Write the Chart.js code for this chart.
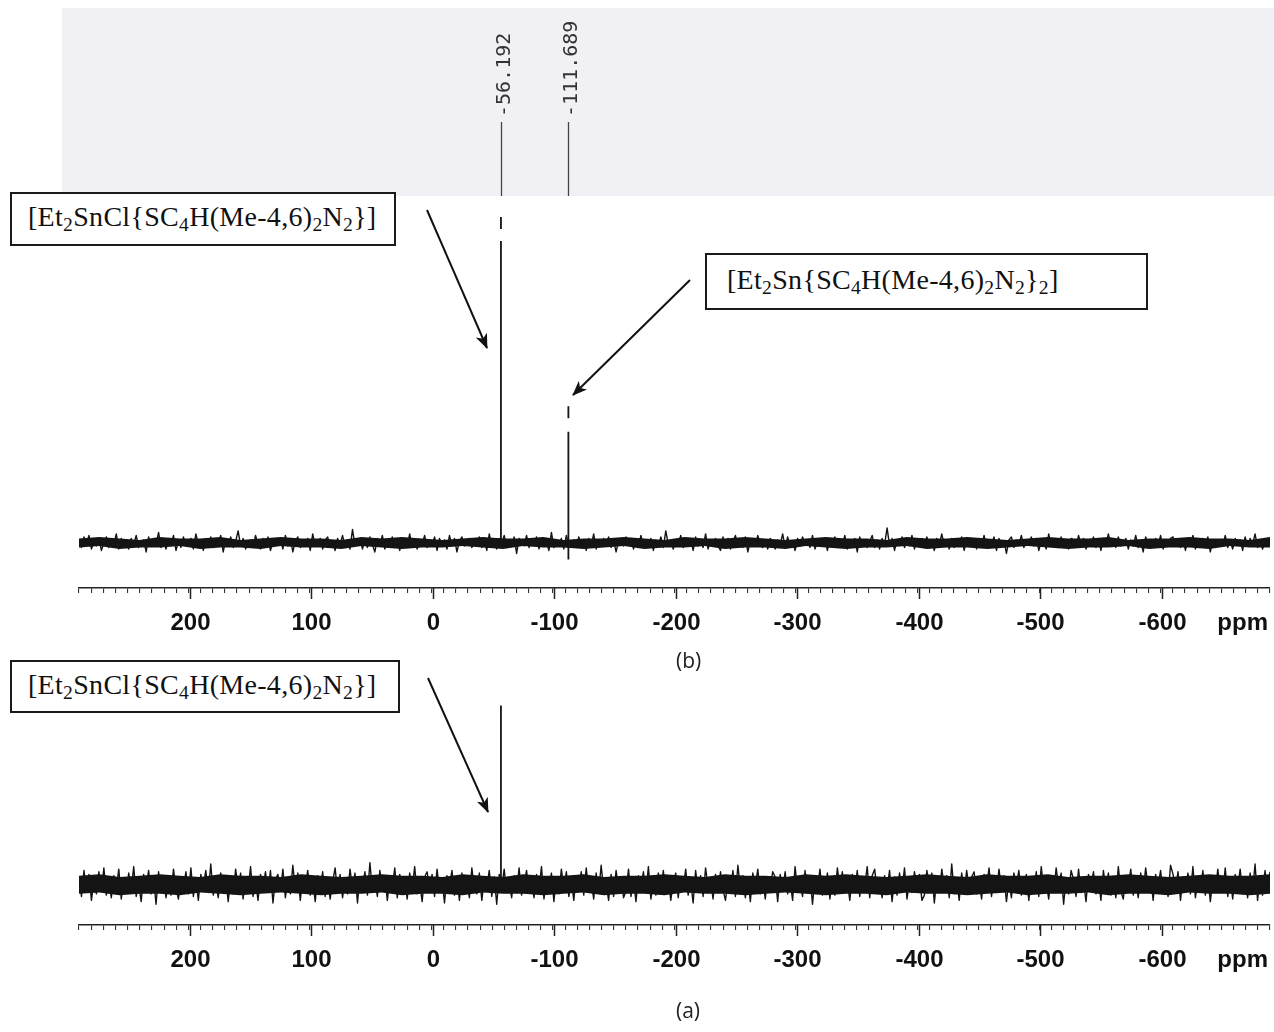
<!DOCTYPE html>
<html>
<head>
<meta charset="utf-8">
<title>119Sn NMR</title>
<script src="https://cdn.jsdelivr.net/npm/chart.js@4.4.1/dist/chart.umd.min.js"></script>
<style>
  body { margin: 0; width: 1274px; height: 1032px; background: #fff; position: relative; overflow: hidden; }
  canvas { position: absolute; left: 0; }
  #chartB { top: 0; }
  #chartA { top: 650px; }
  .box {
    position: absolute; box-sizing: border-box; border: 2px solid #1a1a1a; background: #fff;
    font-family: "Liberation Serif", "Times New Roman", serif; font-size: 28px; color: #111;
    white-space: nowrap; letter-spacing: 0.3px;
  }
  .box sub { font-size: 0.7em; position: relative; top: 0.28em; vertical-align: baseline; line-height: 0; }
  .caption { position: absolute; font-family: "Open Sans", "Noto Sans", sans-serif; font-size: 21px; color: #222; }
  svg { position: absolute; left: 0; top: 0; }
</style>
</head>
<body>
<canvas id="chartB" width="1274" height="650"></canvas>
<canvas id="chartA" width="1274" height="337"></canvas>

<div class="box" style="left:10px;top:192px;width:386px;height:54px;padding:7px 0 0 16px;">[Et<sub>2</sub>SnCl{SC<sub>4</sub>H(Me-4,6)<sub>2</sub>N<sub>2</sub>}]</div>
<div class="box" style="left:705px;top:253px;width:443px;height:57px;padding:9px 0 0 20px;">[Et<sub>2</sub>Sn{SC<sub>4</sub>H(Me-4,6)<sub>2</sub>N<sub>2</sub>}<sub>2</sub>]</div>
<div class="box" style="left:10px;top:660px;width:390px;height:53px;padding:7px 0 0 16px;">[Et<sub>2</sub>SnCl{SC<sub>4</sub>H(Me-4,6)<sub>2</sub>N<sub>2</sub>}]</div>

<div class="caption" style="left:676px;top:646px;">(b)</div>
<div class="caption" style="left:676px;top:996px;">(a)</div>

<svg width="1274" height="1032">
  <defs>
    <marker id="head" markerWidth="16" markerHeight="12" refX="14" refY="6" orient="auto" markerUnits="userSpaceOnUse">
      <path d="M0,0 L15,6 L0,12 L4,6 z" fill="#111"/>
    </marker>
  </defs>
  <line x1="427" y1="210" x2="487" y2="348" stroke="#111" stroke-width="2" marker-end="url(#head)"/>
  <line x1="690" y1="280" x2="573" y2="395" stroke="#111" stroke-width="2" marker-end="url(#head)"/>
  <line x1="428" y1="678" x2="488" y2="812" stroke="#111" stroke-width="2" marker-end="url(#head)"/>
</svg>

<script>
// spectral window (ppm), high to low
const ppmStart = 291;
const ppmEnd = -689;
const majorTicks = [200, 100, 0, -100, -200, -300, -400, -500, -600];

// spectrum (b): mixture
const peakPpmB = [-56.192, -111.689];
const peakHeightB = [217, 91];
const peakFootB = [0, -11];
// break in each plotted peak line (low, high)
const peakBreakLowB = [201, 74];
const peakBreakHighB = [209, 83];
// dense core of the baseline
const coreUpperB = [
  3,4,3,2,4,3,3,4,2,3,4,3,3,2,4,3,4,3,2,3,
  4,3,3,4,2,3,3,4,3,2,4,3,3,4,3,2,3,4,3,3,
  2,4,3,3,4,3,2,3,4,3,3,4,2,3,3,4,3,3,2,4
];
const coreLowerB = [
  -3,-2,-4,-3,-3,-2,-4,-3,-3,-4,-2,-3,-3,-4,-2,-3,-4,-3,-3,-2,
  -3,-4,-2,-3,-3,-4,-3,-2,-4,-3,-3,-2,-4,-3,-3,-4,-2,-3,-4,-3,
  -3,-2,-4,-3,-3,-4,-3,-2,-3,-4,-3,-3,-2,-4,-3,-3,-4,-2,-3,-3
];
// sampled baseline noise
const noiseB = [
  2,-3,4,-1,5,-4,1,-2,3,-5,0,4,-3,2,-1,6,-4,3,-2,1,
  -4,3,-1,5,-3,0,2,-6,4,-2,3,-1,7,-3,1,-4,2,-2,5,-5,
  1,-3,4,-2,0,3,-4,6,-1,2,-5,3,-2,4,-3,1,-1,5,-6,2,
  -2,4,-3,1,8,-2,3,-4,0,2,-3,5,-1,-4,3,-2,4,-5,1,3,
  -1,2,-4,5,-2,3,-6,1,4,-3,2,-1,3,-5,6,-2,0,3,-4,2,
  4,-2,1,-5,3,-1,5,-3,2,-4,9,-2,1,3,-4,2,-3,4,-1,-6,
  3,-2,5,-4,1,-1,4,-3,2,-5,3,0,-2,6,-3,1,-4,2,-1,5,
  -3,1,-2,4,-5,3,-1,2,-4,5,-2,3,-6,1,4,-2,0,3,-3,2,
  -1,4,-3,2,-5,6,-2,1,-4,3,-1,5,-3,2,-2,4,-7,3,1,-2,
  5,-3,2,-1,4,-4,3,-2,1,-5,7,-3,2,-1,3,-4,5,-2,0,2,
  -3,4,-1,2,-5,3,-2,6,-4,1,-2,3,-1,4,-3,2,-6,1,3,-2,
  4,-1,3,-4,2,-3,5,-2,1,-1,3,-5,2,-2,4,-3,8,-1,2,-4,
  1,-2,5,-3,3,-1,2,-5,4,-2,1,-3,6,-4,2,-1,3,-2,-5,4,
  -2,3,-4,1,5,-2,2,-3,4,-6,1,3,-2,5,-1,-3,2,-4,3,1,
  -4,2,-1,6,-3,4,-2,1,-5,3,-2,4,-1,2,-3,5,-4,1,3,-2,
  2,-5,3,-1,4,-3,2,-2,5,-4,1,-1,3,-6,4,-2,2,-3,1,5,
  -3,2,-4,3,-1,10,-2,3,-5,2,-1,4,-3,1,-2,5,-4,2,-1,3,
  -2,4,-3,1,-5,3,-1,6,-2,2,-4,3,-3,1,-1,4,-5,2,3,-2,
  1,-4,3,-2,5,-3,2,-1,4,-5,3,-2,1,-7,2,4,-3,2,-1,5,
  -3,2,-1,4,-2,3,-5,1,2,-4,6,-2,3,-1,-3,4,-2,1,-4,3,
  2,-3,5,-1,3,-4,1,-2,4,-3,2,-5,3,-1,6,-2,1,-3,4,-2,
  -1,3,-4,2,-2,5,-3,1,-6,4,-1,2,-3,3,-2,5,-4,1,-1,3,
  4,-2,1,-3,2,-5,3,-1,5,-4,2,-2,3,-1,4,-6,2,-3,1,2,
  -2,5,-3,1,-4,3,-1,2,-5,4,-2,3,-1,6,-3,2,-4,1,3,-1
];

// spectrum (a): monochloride only
const peakPpmA = [-56.192];
const peakHeightA = [138];
const peakFootA = [0];
const peakBreakLowA = [null];
const peakBreakHighA = [null];
const coreUpperA = [
  7,8,6,7,8,7,6,8,7,7,6,8,7,6,7,8,7,7,6,8,
  7,6,8,7,7,8,6,7,7,8,7,6,8,7,7,6,8,7,8,7,
  6,7,8,7,6,8,7,7,8,6,7,7,8,7,6,7,8,7,7,8
];
const coreLowerA = [
  -7,-6,-8,-7,-7,-8,-6,-7,-8,-7,-6,-7,-8,-7,-7,-6,-8,-7,-7,-8,
  -6,-7,-7,-8,-7,-6,-8,-7,-7,-8,-6,-7,-7,-8,-7,-6,-7,-8,-7,-7,
  -8,-6,-7,-7,-8,-7,-6,-8,-7,-7,-6,-8,-7,-7,-8,-6,-7,-7,-8,-7
];
const noiseA = [
  6,-9,11,-4,8,-12,3,-7,10,-5,13,-8,2,-10,7,-3,12,-11,5,-6,
  9,-4,14,-9,1,-13,8,-2,11,-7,4,-15,10,-5,7,-10,3,-8,12,-3,
  -11,6,-2,10,-7,13,-9,4,-12,8,-1,11,-6,16,-8,2,-10,9,-4,7,
  -13,5,-7,12,-3,9,-11,6,-5,14,-9,3,-12,8,-2,10,-6,11,-14,4,
  8,-5,12,-10,3,-7,15,-4,9,-12,6,-1,11,-8,4,-13,7,-3,10,-9,
  5,-11,2,13,-6,8,-10,4,-7,12,-3,9,-14,6,-1,10,-8,17,-5,3,
  -9,11,-4,7,-12,5,-2,13,-10,8,-6,3,-11,9,-4,14,-7,2,-13,6,
  10,-3,8,-9,12,-5,4,-14,7,-1,11,-8,5,-12,9,-6,3,-10,13,-4,
  -7,9,-12,4,-2,11,-9,6,-15,8,-3,12,-6,2,-10,7,-5,13,-8,1,
  11,-6,3,-10,8,-4,14,-11,5,-2,9,-13,6,-7,12,-3,10,-9,4,-12,
  7,-2,10,-8,13,-5,3,-11,9,-6,15,-4,1,-12,8,-9,11,-3,6,-10,
  -5,12,-9,4,-13,7,-1,10,-6,14,-11,3,-8,9,-4,11,-7,5,-12,2,
  9,-10,6,-3,12,-8,2,-14,11,-5,7,-9,13,-2,4,-11,8,-6,10,-4,
  -12,3,-6,11,-9,15,-3,7,-10,5,-13,9,-1,12,-7,4,-11,6,-2,10,
  6,-13,8,-4,10,-7,3,-12,14,-5,2,-9,11,-6,7,-15,5,-3,12,-8,
  -4,9,-11,5,-8,13,-2,10,-6,3,-12,8,-5,11,-9,4,-1,14,-10,7,
  12,-5,2,-10,7,-3,11,-13,6,-8,9,-4,13,-11,3,-6,10,-2,8,-12,
  -8,11,-3,9,-14,5,-6,12,-2,7,-10,16,-7,4,-12,9,-5,11,-3,6,
  10,-7,4,-11,8,-2,13,-9,5,-6,12,-4,7,-13,3,-10,9,-1,11,-8,
  -3,8,-12,6,-5,10,-9,14,-4,2,-11,7,-6,13,-2,9,-15,5,-7,11,
  4,-9,12,-6,3,-13,8,-1,10,-7,5,-12,11,-4,9,-8,2,-10,14,-5,
  -11,7,-2,12,-8,4,-10,9,-5,13,-3,6,-12,8,-1,11,-7,3,-9,15,
  8,-4,10,-12,6,-2,9,-7,14,-10,3,-5,11,-8,7,-13,4,-6,12,-3,
  -6,13,-9,5,-11,8,-3,12,-7,2,-10,9,-4,16,-12,6,-8,11,-5,10
];

const axisFontCss = "bold 24px 'Liberation Sans', Arial, sans-serif";

// place a sampled series on the acquisition grid
function onGrid(values) {
  const step = (ppmStart - ppmEnd) / (values.length - 1);
  return values.map((v, i) => ({ x: ppmStart - i * step, y: v }));
}

function peakLine(p, foot, top, breakLow, breakHigh) {
  if (breakLow === null) return [{ x: p, y: foot }, { x: p, y: top }];
  return [
    { x: p, y: foot }, { x: p, y: breakLow }, { x: p, y: null },
    { x: p, y: breakHigh }, { x: p, y: top },
  ];
}

function spectrumDatasets(s) {
  const sets = [
    { data: onGrid(s.coreLower), borderWidth: 0, fill: false },
    { data: onGrid(s.coreUpper), borderWidth: 0, backgroundColor: "#141414", fill: "-1" },
    { data: onGrid(s.noise), borderWidth: 1.4, fill: false },
  ];
  s.ppms.forEach((p, k) => {
    sets.push({
      data: peakLine(p, s.feet[k], s.heights[k], s.breakLow[k], s.breakHigh[k]),
      borderWidth: 1.8,
      fill: false,
    });
  });
  return sets.map((d) => Object.assign({
    borderColor: "#141414", pointRadius: 0, tension: 0, spanGaps: false, borderJoinStyle: "round",
  }, d));
}

// long ticks, their numbers and the unit label under the axis line
const axisLabelPlugin = {
  id: "axisLabels",
  afterDraw(chart) {
    const ctx = chart.ctx;
    const xs = chart.scales.x;
    const bottom = chart.chartArea.bottom;
    ctx.save();
    ctx.strokeStyle = "#222";
    ctx.lineWidth = 1.5;
    ctx.fillStyle = "#111";
    ctx.font = axisFontCss;
    ctx.textAlign = "center";
    ctx.textBaseline = "middle";
    majorTicks.forEach((v) => {
      const px = Math.round(xs.getPixelForValue(v)) + 0.5;
      ctx.beginPath();
      ctx.moveTo(px, bottom);
      ctx.lineTo(px, bottom + 11);
      ctx.stroke();
      ctx.fillText(String(v), px, bottom + 35);
    });
    ctx.textAlign = "right";
    ctx.fillText("ppm", chart.chartArea.right - 2, bottom + 35);
    ctx.restore();
  },
};

// scanned header strip with the peak-pick labels above spectrum (b)
const peakLabelPlugin = {
  id: "peakLabels",
  beforeDraw(chart) {
    const ctx = chart.ctx;
    const xs = chart.scales.x;
    ctx.save();
    ctx.fillStyle = "#f1f0f4";
    ctx.fillRect(62, 8, 1212, 188);
    ctx.strokeStyle = "#444";
    ctx.fillStyle = "#333";
    ctx.lineWidth = 1.3;
    ctx.font = "20px 'DejaVu Sans Mono', monospace";
    peakPpmB.forEach((p) => {
      const px = Math.round(xs.getPixelForValue(p)) + 0.5;
      ctx.beginPath();
      ctx.moveTo(px, 122);
      ctx.lineTo(px, 196);
      ctx.stroke();
      ctx.save();
      ctx.translate(px + 3, 117);
      ctx.rotate(-Math.PI / 2);
      ctx.textAlign = "left";
      ctx.textBaseline = "middle";
      ctx.fillText(p.toFixed(3), 0, 0);
      ctx.restore();
    });
    ctx.restore();
  },
};

function spectrumOptions(yMin, yMax, topPad) {
  return {
    responsive: false,
    animation: false,
    devicePixelRatio: 1,
    layout: { padding: { left: 79, right: 4, top: topPad, bottom: 0 } },
    plugins: { legend: { display: false }, tooltip: { enabled: false } },
    scales: {
      x: {
        type: "linear",
        reverse: true,
        min: ppmEnd,
        max: ppmStart,
        afterFit: (scale) => {
          scale.height = 62;
          scale.paddingLeft = 0;
          scale.paddingRight = 0;
        },
        border: { display: true, color: "#222", width: 1.5 },
        grid: { drawOnChartArea: false, drawTicks: true, tickLength: 5, color: "#333", lineWidth: 1.1 },
        ticks: {
          stepSize: 10,
          includeBounds: false,
          maxTicksLimit: 200,
          autoSkip: false,
          maxRotation: 0,
          minRotation: 0,
          callback: () => "",
        },
      },
      y: { display: false, min: yMin, max: yMax },
    },
  };
}

new Chart(document.getElementById("chartB").getContext("2d"), {
  type: "line",
  data: {
    datasets: spectrumDatasets({
      coreUpper: coreUpperB, coreLower: coreLowerB, noise: noiseB,
      ppms: peakPpmB, heights: peakHeightB, feet: peakFootB,
      breakLow: peakBreakLowB, breakHigh: peakBreakHighB,
    }),
  },
  options: spectrumOptions(-30, 231, 196),
  plugins: [peakLabelPlugin, axisLabelPlugin],
});

new Chart(document.getElementById("chartA").getContext("2d"), {
  type: "line",
  data: {
    datasets: spectrumDatasets({
      coreUpper: coreUpperA, coreLower: coreLowerA, noise: noiseA,
      ppms: peakPpmA, heights: peakHeightA, feet: peakFootA,
      breakLow: peakBreakLowA, breakHigh: peakBreakHighA,
    }),
  },
  options: spectrumOptions(-31, 150, 40),
  plugins: [axisLabelPlugin],
});
</script>
</body>
</html>
